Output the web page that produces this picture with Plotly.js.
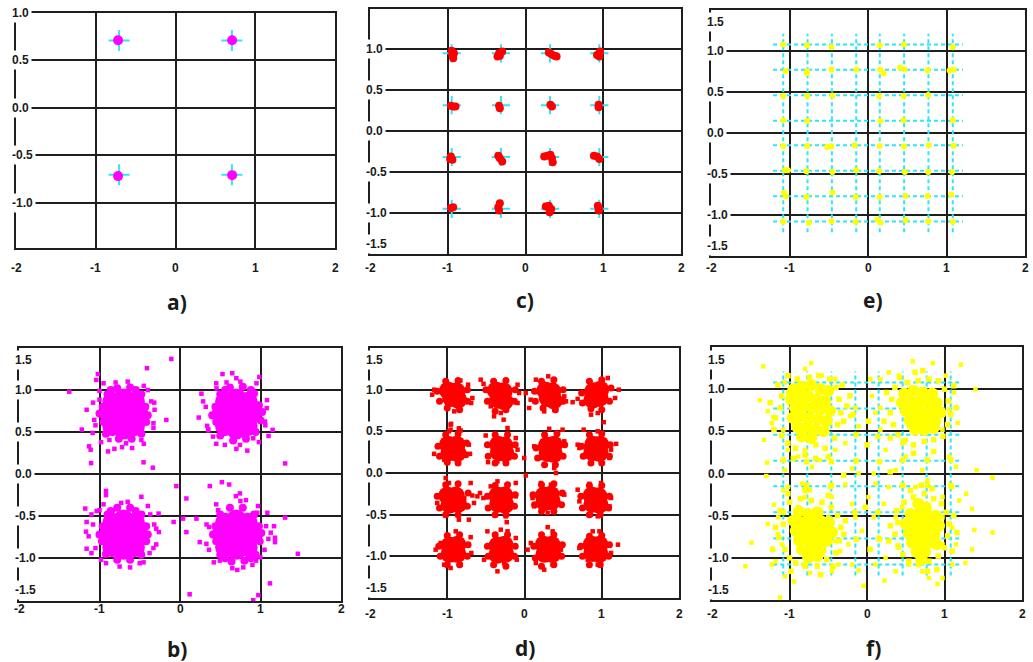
<!DOCTYPE html>
<html><head><meta charset="utf-8">
<script src="https://cdn.plot.ly/plotly-3.0.1.min.js"></script>
<style>html,body{margin:0;padding:0;background:#fff;}#chart{width:1033px;height:662px;}</style>
</head><body><div id="chart"></div>
<script>
// ---------------- DATA ----------------
const xTickVals = [-2, -1, 0, 1, 2];
const xTickText = ['-2', '-1', '0', '1', '2'];
const yTickVals = [1.5, 1, 0.5, 0, -0.5, -1, -1.5];
const yTickText = ['1.5', '1.0', '0.5', '0.0', '-0.5', '-1.0', '-1.5'];
const panelLabels = ['a)', 'c)', 'e)', 'b)', 'd)', 'f)'];

// ideal constellation levels
const qpskLevels = [-0.707, 0.707];
const qam16Levels = [-0.949, -0.316, 0.316, 0.949];
const qam64Levels = [-1.08, -0.77, -0.46, -0.15, 0.15, 0.46, 0.77, 1.08];
const qam64Span = 1.21;

// a) QPSK received (no noise)
const aPts = [[-0.72,0.71],[0.71,0.71],[-0.72,-0.72],[0.71,-0.71]];

// c) 16-QAM received (low noise)
const cPts = [
[-0.95,0.98],[-0.94,0.93],[-0.93,0.89],[-0.92,0.95],
[-0.34,0.95],[-0.30,0.97],[-0.36,0.91],[-0.33,0.92],
[0.30,0.96],[0.33,0.94],[0.37,0.92],[0.40,0.91],
[0.92,0.93],[0.95,0.95],[0.95,0.91],[0.96,0.97],
[-0.96,0.31],[-0.93,0.30],[-0.90,0.30],
[-0.34,0.31],[-0.33,0.28],
[0.32,0.32],[0.34,0.30],
[0.94,0.32],[0.94,0.29],
[-0.96,-0.31],[-0.94,-0.35],[-0.97,-0.34],
[-0.35,-0.30],[-0.33,-0.33],[-0.30,-0.37],
[0.24,-0.31],[0.28,-0.30],[0.32,-0.29],[0.34,-0.33],[0.35,-0.38],
[0.88,-0.30],[0.92,-0.31],[0.95,-0.34],
[-0.96,-0.94],[-0.93,-0.93],
[-0.33,-0.88],[-0.35,-0.93],[-0.34,-0.97],
[0.26,-0.92],[0.30,-0.91],[0.33,-0.95],[0.31,-0.99],
[0.93,-0.91],[0.95,-0.95],[0.94,-0.97]
];

// e) 64-QAM received (low noise)
const ePts = [
[-1.08,1.08],[-0.775,1.07],[-0.466,1.05],[0.148,1.07],[0.458,1.08],[1.08,1.05],
[-1.05,0.755],[-0.775,0.75],[-0.78,0.73],[-0.466,0.775],[-0.148,0.775],[0.157,0.77],[0.20,0.73],[0.41,0.80],[0.466,0.775],[0.758,0.763],[1.04,0.763],[1.09,0.77],
[-1.08,0.45],[-0.775,0.45],[-0.453,0.458],[0.14,0.45],[0.453,0.45],[0.767,0.462],
[-1.08,0.154],[-0.775,0.146],[0.157,0.146],[0.453,0.154],[1.08,0.154],
[-1.08,-0.158],[-0.775,-0.158],[-0.52,-0.17],[-0.466,-0.162],[-0.17,-0.15],[0.148,-0.158],[0.458,-0.162],[0.775,-0.15],[1.09,-0.154],
[-1.06,-0.454],[-1.02,-0.454],[-0.785,-0.467],[-0.453,-0.475],[-0.148,-0.454],[0.14,-0.462],[0.47,-0.475],[0.767,-0.475],[1.07,-0.475],
[-1.07,-0.73],[-1.05,-0.77],[-0.785,-0.78],[-0.453,-0.726],[-0.157,-0.78],[0.148,-0.78],[0.479,-0.767],[0.758,-0.767],[1.06,-0.75],
[-1.08,-1.083],[-0.754,-1.095],[-0.466,-1.075],[-0.157,-1.083],[0.119,-1.055],[0.161,-1.09],[0.479,-1.063],[0.767,-1.075],[1.08,-1.083]
];

// b) QPSK received (high noise): dense cores, cluster edges, scattered points
const bCore = [
[-0.84,0.86],[-0.70,0.90],[-0.56,0.86],[-0.88,0.72],[-0.70,0.72],[-0.52,0.72],[-0.84,0.57],[-0.70,0.53],[-0.56,0.57],
[0.56,0.86],[0.70,0.90],[0.84,0.86],[0.52,0.72],[0.70,0.72],[0.88,0.72],[0.56,0.57],[0.70,0.53],[0.84,0.57],
[-0.84,-0.58],[-0.70,-0.54],[-0.56,-0.58],[-0.88,-0.72],[-0.70,-0.72],[-0.52,-0.72],[-0.84,-0.87],[-0.70,-0.90],[-0.56,-0.87],
[0.56,-0.58],[0.70,-0.54],[0.84,-0.58],[0.52,-0.72],[0.70,-0.72],[0.88,-0.72],[0.56,-0.87],[0.70,-0.90],[0.84,-0.87]
];
const bEdge = [
[-0.96,0.80],[-0.95,0.62],[-0.90,0.95],[-0.78,1.02],[-0.62,1.03],[-0.48,0.95],[-0.43,0.80],[-0.42,0.62],[-0.48,0.48],[-0.60,0.42],[-0.76,0.42],[-0.92,0.48],[-1.0,0.72],[-0.86,1.0],[-0.55,1.0],[-0.40,0.70],
[0.44,0.80],[0.45,0.62],[0.50,0.95],[0.62,1.03],[0.78,1.04],[0.92,0.96],[0.98,0.82],[1.00,0.64],[0.94,0.50],[0.82,0.42],[0.66,0.40],[0.50,0.46],[0.40,0.70],[0.56,1.0],[0.88,1.0],[1.02,0.74],
[-0.96,-0.62],[-0.97,-0.80],[-0.90,-0.48],[-0.78,-0.40],[-0.62,-0.40],[-0.48,-0.48],[-0.42,-0.62],[-0.42,-0.80],[-0.48,-0.96],[-0.62,-1.02],[-0.78,-1.02],[-0.92,-0.95],[-1.0,-0.72],[-0.86,-0.44],[-0.55,-0.44],[-0.40,-0.72],
[0.44,-0.62],[0.45,-0.80],[0.50,-0.48],[0.62,-0.40],[0.78,-0.40],[0.92,-0.48],[0.98,-0.62],[0.99,-0.80],[0.94,-0.96],[0.80,-1.03],[0.64,-1.04],[0.50,-0.96],[0.41,-0.72],[0.56,-1.0],[0.88,-1.0],[1.01,-0.70]
];
const bOut = [
[-1.08,0.85],[-1.05,0.58],[-0.95,1.08],[-0.65,1.10],[-0.45,1.05],[-0.32,0.85],[-0.33,0.55],[-0.45,0.36],[-0.72,0.32],[-0.98,0.38],
[0.32,0.80],[0.35,0.52],[0.45,1.08],[0.75,1.10],[0.95,1.08],[1.08,0.88],[1.06,0.58],[0.98,0.38],[0.70,0.30],[0.45,0.36],
[-1.08,-0.60],[-1.05,-0.88],[-0.95,-0.36],[-0.65,-0.33],[-0.40,-0.38],[-0.32,-0.60],[-0.33,-0.88],[-0.50,-1.06],[-0.75,-1.10],[-0.98,-1.02],
[0.33,-0.60],[0.36,-0.90],[0.45,-0.36],[0.75,-0.32],[0.97,-0.38],[1.07,-0.62],[1.05,-0.90],[0.90,-1.08],[0.65,-1.12],[0.42,-1.05],
[-1.376,0.98],[-1.02,1.19],[-1.04,1.12],[-1.0,0.99],[-1.16,0.765],[-1.22,0.53],[-1.085,0.49],[-1.13,0.33],[-1.11,0.29],[-1.105,0.13],
[-0.894,0.27],[-0.815,0.30],[-0.595,0.31],[-0.453,0.14],[-0.337,0.076],[-0.17,0.645],[-0.41,1.26],[-0.108,1.37],[-0.80,1.09],[-0.316,0.765],
[-0.33,0.605],[-0.357,0.865],[-1.065,0.645],[-0.48,0.406],[-0.877,0.406],[-0.67,0.366],[-1.0,0.885],[-0.40,1.0],
[0.528,1.19],[0.649,1.20],[0.70,1.14],[0.578,1.09],[0.985,1.155],[0.898,1.0],[0.266,0.956],[0.287,0.865],[0.233,0.673],[0.337,0.574],
[0.35,0.534],[0.41,0.446],[0.557,0.347],[0.836,0.279],[1.077,0.785],[1.10,0.454],[1.15,0.526],[1.306,0.127],[0.91,0.426],[1.056,0.625],
[0.744,0.347],[0.453,1.02],
[-0.919,-0.20],[-0.919,-0.25],[-1.177,-0.41],[-1.10,-0.48],[-1.035,-0.44],[-1.0,-0.43],[-1.16,-0.57],[-1.168,-0.685],[-1.135,-0.74],[-1.16,-0.888],
[-1.10,-0.94],[-0.919,-1.06],[-0.773,-1.03],[-0.62,-1.11],[-0.453,-1.05],[-0.378,-0.94],[-0.295,-0.837],[-0.262,-0.69],[-0.295,-0.65],[-0.266,-0.47],
[-0.37,-0.48],[-0.48,-0.27],[-0.73,-0.343],[-0.836,-0.43],
[0.37,-0.143],[0.52,-0.096],[0.611,-0.124],[0.694,-0.263],[0.819,-0.31],[0.744,-0.23],[0.474,-0.43],[0.362,-0.63],[0.245,-0.81],[0.328,-0.83],
[0.204,-0.53],[0.079,-0.29],[0.079,-0.69],[0.037,-0.53],[-0.079,-0.57],[-0.046,-0.143],[0.12,-1.43],[0.711,-1.14],[0.786,-1.11],[0.91,-1.50],
[0.973,-1.44],[1.118,-1.30],[1.464,-0.948],[1.306,-0.518],[1.168,-0.62],[1.18,-0.757],[1.18,-0.81],[1.127,-0.697],[1.085,-0.46],[1.098,-0.77],
[0.998,-0.99],[0.944,-1.03],[0.96,-0.46],[0.495,-1.03]
];

// d) 16-QAM received (high noise)
const dCore = [
[-0.99,0.99],[-0.88,0.98],[-0.95,0.90],[-0.86,0.88],
[-0.37,0.99],[-0.27,0.98],[-0.34,0.88],[-0.26,0.86],
[0.27,0.99],[0.36,0.98],[0.30,0.90],[0.38,0.87],
[0.89,0.98],[0.98,1.00],[0.88,0.88],[0.97,0.90],
[-0.99,0.34],[-0.88,0.34],[-0.97,0.25],[-0.87,0.24],
[-0.34,0.34],[-0.26,0.33],[-0.33,0.25],[-0.25,0.24],
[0.29,0.33],[0.38,0.34],[0.30,0.24],[0.38,0.23],
[0.89,0.34],[0.98,0.34],[0.88,0.25],[0.97,0.24],
[-1.00,-0.27],[-0.89,-0.27],[-0.97,-0.38],[-0.86,-0.37],
[-0.35,-0.27],[-0.26,-0.27],[-0.34,-0.37],[-0.25,-0.38],
[0.25,-0.27],[0.34,-0.26],[0.26,-0.35],[0.35,-0.34],
[0.87,-0.27],[0.96,-0.28],[0.88,-0.37],[0.97,-0.38],
[-0.97,-0.87],[-0.87,-0.86],[-0.97,-0.97],[-0.87,-0.97],
[-0.35,-0.87],[-0.26,-0.86],[-0.35,-0.98],[-0.25,-0.97],
[0.25,-0.86],[0.35,-0.86],[0.26,-0.97],[0.36,-0.97],
[0.87,-0.86],[0.97,-0.86],[0.88,-0.96],[0.97,-0.97]
];
const dEdge = [
[-1.13,0.98],[-1.10,0.86],[-1.02,1.10],[-0.86,1.11],[-0.74,1.00],[-0.74,0.86],[-0.84,0.76],[-1.00,0.78],
[-0.50,1.00],[-0.48,0.86],[-0.40,1.10],[-0.24,1.11],[-0.12,1.00],[-0.13,0.86],[-0.24,0.76],[-0.38,0.74],
[0.13,0.98],[0.14,0.86],[0.22,1.10],[0.38,1.12],[0.50,1.00],[0.50,0.86],[0.40,0.76],[0.24,0.78],
[0.74,0.96],[0.75,0.84],[0.84,1.10],[1.00,1.12],[1.12,1.02],[1.10,0.86],[1.00,0.76],[0.86,0.77],
[-1.12,0.32],[-1.10,0.20],[-1.02,0.46],[-0.86,0.47],[-0.75,0.36],[-0.76,0.22],[-0.86,0.12],[-1.00,0.13],
[-0.48,0.34],[-0.47,0.20],[-0.38,0.46],[-0.22,0.46],[-0.12,0.34],[-0.13,0.20],[-0.24,0.12],[-0.38,0.12],
[0.15,0.30],[0.17,0.18],[0.26,0.46],[0.42,0.47],[0.52,0.34],[0.50,0.20],[0.40,0.10],[0.26,0.10],
[0.74,0.32],[0.76,0.20],[0.84,0.46],[1.00,0.47],[1.11,0.34],[1.10,0.20],[1.00,0.12],[0.86,0.12],
[-1.13,-0.28],[-1.10,-0.42],[-1.02,-0.14],[-0.86,-0.13],[-0.73,-0.24],[-0.74,-0.40],[-0.86,-0.50],[-1.02,-0.50],
[-0.48,-0.28],[-0.47,-0.42],[-0.38,-0.15],[-0.22,-0.14],[-0.12,-0.26],[-0.13,-0.40],[-0.24,-0.50],[-0.38,-0.50],
[0.11,-0.26],[0.13,-0.38],[0.22,-0.14],[0.38,-0.13],[0.49,-0.24],[0.48,-0.38],[0.38,-0.46],[0.22,-0.46],
[0.73,-0.28],[0.75,-0.42],[0.84,-0.15],[1.00,-0.15],[1.10,-0.28],[1.09,-0.42],[0.98,-0.50],[0.84,-0.50],
[-1.11,-0.88],[-1.09,-1.00],[-1.00,-0.75],[-0.84,-0.74],[-0.73,-0.86],[-0.74,-1.00],[-0.84,-1.10],[-1.00,-1.10],
[-0.48,-0.88],[-0.47,-1.00],[-0.38,-0.74],[-0.22,-0.74],[-0.12,-0.88],[-0.13,-1.00],[-0.24,-1.12],[-0.40,-1.10],
[0.12,-0.88],[0.14,-1.02],[0.22,-0.74],[0.38,-0.74],[0.49,-0.86],[0.48,-1.00],[0.38,-1.10],[0.22,-1.12],
[0.73,-0.88],[0.75,-1.00],[0.84,-0.76],[1.00,-0.75],[1.10,-0.86],[1.09,-1.00],[0.98,-1.10],[0.84,-1.10]
];
const dOut = [
[-1.195,0.94],[-1.17,1.0],[-0.83,1.11],[-0.73,1.06],[-0.675,0.90],[-0.69,0.84],[-0.91,0.74],[-0.85,0.76],[-0.95,0.59],[-0.957,0.52],[-0.85,0.536],
[-0.567,1.12],[-0.53,1.07],[-0.09,1.06],[-0.07,0.96],[-0.09,0.84],[-0.437,0.80],[-0.394,0.68],[-0.27,0.64],[-0.22,0.54],[-0.307,0.72],
[0.017,0.96],[0.08,0.88],[0.147,1.12],[0.307,1.16],[0.515,0.92],[0.537,0.86],[0.385,0.76],[0.255,0.74],[0.06,0.78],
[0.623,0.85],[0.688,0.89],[1.078,1.14],[1.22,1.0],[1.173,0.90],[1.026,0.61],[0.948,0.72],[0.766,0.52],[0.861,0.70],
[-1.17,0.23],[-0.978,0.50],[-0.827,0.51],[-0.72,0.34],[-0.706,0.23],[-1.04,0.16],[-0.87,0.13],[-0.957,0.58],
[-0.502,0.45],[-0.472,0.13],[-0.113,0.42],[-0.09,0.28],[-0.35,0.14],[-0.2,0.18],
[0.125,0.32],[0.212,0.18],[0.385,0.06],[0.407,0.0],[0.493,0.52],[0.515,0.38],[0.32,0.53],[-0.004,0.18],[0.017,-0.03],
[0.688,0.34],[0.71,0.30],[1.186,0.35],[1.12,0.28],[0.948,0.50],[0.86,0.14],[1.1,0.18],
[-1.02,-0.06],[-0.978,-0.12],[-0.697,-0.12],[-0.675,-0.27],[-0.654,-0.36],[-0.78,-0.30],[-0.85,-0.56],[-0.72,-0.56],[-1.13,-0.36],[-0.576,-0.24],[-0.61,-0.28],
[-0.35,-0.10],[-0.113,-0.12],[-0.113,-0.28],[-0.532,-0.30],[-0.242,-0.52],[-0.23,-0.59],[-0.437,-0.16],
[0.104,-0.30],[0.212,-0.12],[0.342,-0.14],[0.515,-0.26],[0.43,-0.36],[0.3,-0.48],[0.125,-0.40],
[0.688,-0.20],[0.71,-0.34],[0.84,-0.13],[0.991,-0.12],[1.12,-0.30],[1.1,-0.40],[0.86,-0.50],[0.948,-0.52],
[-1.15,-0.92],[-1.086,-0.84],[-0.89,-0.70],[-0.697,-0.77],[-0.688,-0.96],[-0.957,-1.14],[-1.04,-1.10],[-0.827,-1.10],
[-0.48,-0.70],[-0.307,-0.68],[-0.22,-0.70],[-0.113,-0.78],[-0.1,-1.04],[-0.35,-1.18],[-0.524,-1.04],[-0.264,-1.08],
[0.04,-0.92],[0.082,-0.84],[0.3,-0.65],[0.364,-0.70],[0.472,-0.92],[0.255,-1.16],[0.364,-1.10],[0.147,-1.08],
[0.71,-0.90],[0.883,-0.70],[0.97,-0.70],[1.21,-0.86],[1.12,-0.96],[0.948,-1.10],[0.818,-1.04]
];

// f) 64-QAM received (high noise)
const fCore = [
[-0.95,1.00],[-0.84,1.03],[-0.72,1.05],[-0.60,1.00],[-0.50,0.98],
[-0.98,0.88],[-0.87,0.90],[-0.76,0.92],[-0.65,0.88],[-0.54,0.86],
[-0.93,0.78],[-0.82,0.80],[-0.71,0.78],[-0.60,0.76],[-0.48,0.74],
[-0.96,0.66],[-0.85,0.68],[-0.74,0.66],[-0.63,0.64],[-0.52,0.62],
[-0.90,0.55],[-0.78,0.55],[-0.67,0.52],[-0.56,0.50],[-0.84,0.44],[-0.72,0.42],
[0.48,0.95],[0.60,0.98],[0.72,0.96],[0.84,0.95],
[0.45,0.84],[0.56,0.86],[0.67,0.85],[0.78,0.86],[0.90,0.84],
[0.50,0.74],[0.62,0.75],[0.73,0.73],[0.84,0.74],[0.95,0.72],
[0.55,0.63],[0.66,0.63],[0.77,0.62],[0.88,0.62],
[0.62,0.52],[0.74,0.52],[0.86,0.54],
[-0.88,-0.45],[-0.76,-0.48],[-0.64,-0.46],
[-0.95,-0.56],[-0.84,-0.58],[-0.72,-0.57],[-0.60,-0.56],[-0.49,-0.58],
[-0.92,-0.68],[-0.80,-0.68],[-0.68,-0.67],[-0.56,-0.68],[-0.45,-0.70],
[-0.88,-0.79],[-0.76,-0.78],[-0.64,-0.79],[-0.52,-0.80],
[-0.84,-0.90],[-0.72,-0.90],[-0.60,-0.91],[-0.76,-1.00],[-0.64,-0.98],
[0.66,-0.36],[0.76,-0.40],
[0.56,-0.48],[0.67,-0.48],[0.78,-0.49],[0.89,-0.50],
[0.50,-0.60],[0.61,-0.59],[0.72,-0.60],[0.83,-0.60],[0.93,-0.62],
[0.54,-0.71],[0.65,-0.70],[0.76,-0.71],[0.87,-0.72],
[0.58,-0.82],[0.69,-0.82],[0.80,-0.82],[0.90,-0.84],
[0.64,-0.93],[0.75,-0.93],[0.70,-1.02]
];
const fHalo = [
[-1.15,1.05],[-1.10,0.92],[-1.12,0.78],[-1.18,0.66],[-1.10,0.45],[-1.02,0.36],[-0.92,0.30],[-0.80,0.22],[-0.66,0.34],[-0.54,0.30],
[-0.42,0.42],[-0.38,0.58],[-0.34,0.72],[-0.36,0.88],[-0.40,1.02],[-0.48,1.12],[-0.62,1.16],[-0.74,1.14],[-0.90,1.12],[-1.02,1.16],
[-0.30,0.62],[-0.26,0.80],[-0.22,0.92],[-0.18,0.70],[-0.32,1.05],[-0.66,0.18],[-0.50,0.20],[-1.20,0.52],[-1.25,0.84],[-0.95,0.18],
[0.36,1.02],[0.32,0.88],[0.30,0.72],[0.34,0.58],[0.40,0.46],[0.48,0.38],[0.60,0.34],[0.74,0.38],[0.86,0.40],[0.98,0.44],
[1.04,0.58],[1.08,0.70],[1.05,0.86],[1.00,1.00],[0.92,1.10],[0.80,1.12],[0.66,1.10],[0.52,1.08],[0.42,1.14],[0.25,0.96],
[0.22,0.62],[1.15,0.78],[1.12,1.04],[0.62,1.20],[0.72,1.22],[0.30,0.42],[0.60,0.24],[0.86,0.26],
[-1.12,-0.44],[-1.08,-0.60],[-1.14,-0.76],[-1.06,-0.90],[-1.00,-1.00],[-0.92,-1.06],[-0.80,-1.10],[-0.64,-1.10],[-0.52,-1.02],[-0.40,-0.94],
[-0.36,-0.80],[-0.34,-0.64],[-0.38,-0.50],[-0.46,-0.40],[-0.58,-0.34],[-0.72,-0.32],[-0.86,-0.30],[-1.00,-0.34],[-1.18,-0.64],[-0.30,-0.72],
[-0.28,-0.56],[-0.60,-1.20],[-0.98,-1.16],[-0.50,-0.26],[-0.80,-0.20],[-1.02,-0.24],[-1.22,-0.90],[-0.44,-1.10],
[0.38,-0.44],[0.40,-0.58],[0.36,-0.72],[0.40,-0.86],[0.46,-0.96],[0.54,-1.04],[0.66,-1.08],[0.80,-1.04],[0.92,-0.98],[1.00,-0.88],
[1.04,-0.74],[1.06,-0.60],[1.02,-0.46],[0.96,-0.36],[0.86,-0.30],[0.74,-0.24],[0.60,-0.28],[0.48,-0.34],[0.70,-0.14],[0.84,-0.18],
[0.56,-0.20],[1.12,-0.50],[1.16,-0.70],[1.10,-0.92],[0.30,-0.62],[0.28,-0.80],[0.78,-1.16],[0.90,-1.14],
[-0.14,0.46],[0.14,0.44],[-0.14,0.15],[0.16,0.14],[-0.46,0.14],[0.46,0.16],[-0.78,0.14],[0.78,0.16],[-0.78,-0.14],[0.78,-0.14],
[-0.46,-0.14],[0.46,-0.14],[-0.16,-0.46],[0.14,-0.46],[-0.14,-0.78],[0.16,-0.78],[1.08,0.16],[1.08,-0.14],[-1.08,0.16],[-1.08,-0.46],
[0.0,0.34],[0.02,0.62],[-0.02,-0.40],[0.04,-0.90],[0.30,0.02],[-0.30,-0.02]
];
const fOut = [
[-1.34,1.27],[-0.72,1.31],[0.59,1.33],[0.85,1.31],[1.21,1.29],[1.40,1.0],[1.415,0.04],[1.62,-0.05],[1.62,-0.70],[1.385,-0.67],
[1.355,-0.42],[1.28,-0.24],[1.355,-0.90],[1.27,-1.06],[0.91,-1.31],[0.974,-1.24],[0.80,-1.24],[0.225,-1.27],[-0.043,-1.33],[-0.94,-1.28],
[-1.125,-1.47],[-1.57,-1.10],[-1.49,-0.82],[-1.28,-0.60],[-1.30,-0.03],[-1.29,0.13],[-1.385,0.87],[-1.33,0.40],[-1.21,0.67],[-1.28,0.74],
[-1.18,-1.04],[-1.23,-1.08],[-1.06,-1.22],[-1.02,0.28],[-1.06,0.04],[-1.08,-0.20],[-1.02,-0.16],[-1.2,-0.37],[-1.15,-0.72],[-0.84,-0.12],
[-0.80,-0.28],[-0.71,0.08],[-0.61,0.16],[-0.476,-0.16],[-0.455,-0.28],[-0.41,0.28],[-0.28,0.36],[-0.216,0.68],[-0.15,0.78],[-0.108,0.56],
[-0.195,0.06],[-0.108,0.0],[-0.28,-0.13],[-0.195,-0.36],[-0.15,-0.52],[-0.065,-0.68],[-0.24,-0.84],[-0.195,-1.08],[-0.108,-1.15],[-0.37,-1.08],
[-0.455,-1.16],[-0.736,-1.18],[-0.82,-1.08],[0.087,0.0],[0.108,-0.12],[0.02,-0.28],[0.087,-0.52],[0.15,-0.76],[0.24,-1.0],[0.108,-1.08],
[0.37,-1.16],[0.216,-0.36],[0.28,-0.16],[0.37,0.04],[0.50,0.20],[0.455,0.36],[0.24,0.28],[0.173,0.52],[0.108,0.72],[0.065,0.92],
[0.173,1.12],[0.28,1.20],[0.41,1.16],[0.043,1.12],[0.173,0.78],[0.714,0.04],[0.78,-0.08],[0.628,-0.16],[1.06,0.20],[1.147,0.08],
[1.10,-0.16],[0.974,-0.28],[1.19,-0.32],[1.10,-0.64],[1.147,-0.84],[1.10,-1.08],[1.06,0.76],[1.125,0.96],[1.017,1.16],[1.17,0.60],
[0.974,0.52],[0.714,0.48],[0.50,0.40],[0.54,0.56],[-0.80,1.24],[-0.584,1.16],[-0.41,1.12],[-1.06,1.08],[-1.02,0.96],[-1.23,0.60],
[-1.08,0.52],[-0.887,0.20],[-0.80,0.28],[-1.147,-0.52],[-1.10,-0.84],[-0.41,-0.80],[-0.346,-0.92],[-0.50,-0.52],[-0.887,-0.40],[-0.736,-0.20],
[0.455,-0.40],[0.37,-0.52],[0.41,-0.88],[0.54,-1.08],[0.714,-1.16],[0.974,-0.84],[0.974,-0.52]
];

// ---------------- STYLE / LAYOUT ----------------
const W = 1033, H = 662;
const MAGENTA = '#ff00ff', RED = '#ff0000', YELLOW = '#ffff00', CYAN = '#2ee6f5';
const GRID = '#1e1e1e';
const TICKFONT = {family: 'Liberation Sans, Arial, sans-serif', size: 12, color: '#1a1a1a'};

// pixel boxes: [left, right, top, bottom], y range, x-label gap, label center
const panels = [
  {ax: '',  box: [16, 335, 12.7, 248.3], yr: [-1.48, 1.0], xgap: 14, lab: [177, 302]},
  {ax: '2', box: [370, 681, 9, 254],     yr: [-1.5, 1.49], xgap: 8,  lab: [525, 300]},
  {ax: '3', box: [711, 1025, 10, 256],   yr: [-1.5, 1.5],  xgap: 6,  lab: [873, 300]},
  {ax: '4', box: [19, 341, 348, 601],    yr: [-1.51, 1.5], xgap: 2,  lab: [177, 649]},
  {ax: '5', box: [370, 679, 348, 598],   yr: [-1.5, 1.5],  xgap: 10, lab: [525, 648]},
  {ax: '6', box: [712, 1022, 347, 600],  yr: [-1.5, 1.5],  xgap: 8,  lab: [873, 648]}
];

function split(list) { return {x: list.map(p => p[0]), y: list.map(p => p[1])}; }
function gridPts(levels) { const o = []; levels.forEach(y => levels.forEach(x => o.push([x, y]))); return o; }
function dashLines(levels, span) {
  const x = [], y = [];
  levels.forEach(L => { x.push(-span, span, null); y.push(L, L, null); x.push(L, L, null); y.push(-span, span, null); });
  return {x, y};
}

const traces = [];
function addPts(list, i, color, size, symbol) {
  const d = split(list);
  traces.push({type: 'scatter', mode: 'markers', x: d.x, y: d.y, xaxis: 'x' + panels[i].ax, yaxis: 'y' + panels[i].ax,
    marker: {color: color, size: size, symbol: symbol || 'circle', line: {width: 0}}, hoverinfo: 'skip', showlegend: false});
}
function addCross(levels, i, size) {
  const d = split(gridPts(levels));
  traces.push({type: 'scatter', mode: 'markers', x: d.x, y: d.y, xaxis: 'x' + panels[i].ax, yaxis: 'y' + panels[i].ax,
    marker: {symbol: 'cross-thin-open', size: size, color: CYAN, line: {color: CYAN, width: 2}}, hoverinfo: 'skip', showlegend: false});
}
function addDash(i) {
  const d = dashLines(qam64Levels, qam64Span);
  traces.push({type: 'scatter', mode: 'lines', x: d.x, y: d.y, xaxis: 'x' + panels[i].ax, yaxis: 'y' + panels[i].ax,
    line: {color: CYAN, width: 2, dash: '4px,3px'}, hoverinfo: 'skip', showlegend: false, connectgaps: false});
}

// a)
addCross(qpskLevels, 0, 15);
addPts(aPts, 0, MAGENTA, 10);
// c)
addCross(qam16Levels, 1, 13);
addPts(cPts, 1, RED, 8);
// e)
addDash(2);
addPts(ePts, 2, YELLOW, 6);
// b)
addPts(bCore, 3, MAGENTA, 20);
addPts(bEdge, 3, MAGENTA, 8);
addPts(bOut, 3, MAGENTA, 4.5, 'square');
// d)
addPts(dCore, 4, RED, 18);
addPts(dEdge, 4, RED, 7);
addPts(dOut, 4, RED, 4.5, 'square');
// f)
addDash(5);
addPts(fCore, 5, YELLOW, 12);
addPts(fHalo, 5, YELLOW, 5.5, 'square');
addPts(fOut, 5, YELLOW, 4.5, 'square');

const layout = {
  width: W, height: H, autosize: false,
  margin: {l: 0, r: 0, t: 0, b: 0, pad: 0},
  paper_bgcolor: '#fff', plot_bgcolor: '#fff',
  showlegend: false, annotations: []
};

panels.forEach((p, i) => {
  const [l, r, t, b] = p.box;
  const xn = 'xaxis' + p.ax, yn = 'yaxis' + p.ax;
  const xid = 'x' + p.ax, yid = 'y' + p.ax;
  layout[xn] = {domain: [l / W, r / W], range: [-2, 2], anchor: yid, tickvals: [-1, 0, 1], showticklabels: false,
    showgrid: true, gridcolor: GRID, gridwidth: 2, zeroline: false, showline: true, mirror: true,
    linecolor: GRID, linewidth: 1.8, ticks: '', fixedrange: true};
  layout[yn] = {domain: [1 - b / H, 1 - t / H], range: p.yr, anchor: xid, tickvals: [-1, -0.5, 0, 0.5, 1], showticklabels: false,
    showgrid: true, gridcolor: GRID, gridwidth: 2, zeroline: false, showline: true, mirror: true,
    linecolor: GRID, linewidth: 1.8, ticks: '', fixedrange: true};
  // y tick labels (overlapping the left axis line, white background)
  yTickVals.forEach((v, k) => {
    if (v > p.yr[1] + 0.01) return;
    let shift = 0;
    if (v === 1.5) shift = -12.5;
    if (v === -1.5) shift = 10;
    layout.annotations.push({xref: xid + ' domain', yref: yid, x: 0, y: v, xanchor: 'left', yanchor: 'middle',
      xshift: -7, yshift: shift, text: '<b>' + yTickText[k] + '</b>', showarrow: false, bgcolor: '#fff', borderpad: 2, font: TICKFONT});
  });
  // x tick labels
  xTickVals.forEach((v, k) => {
    layout.annotations.push({xref: xid, yref: yid + ' domain', x: v, y: 0, xanchor: 'center', yanchor: 'top',
      yshift: -(p.xgap - 3.3), text: '<b>' + xTickText[k] + '</b>', showarrow: false, borderpad: 1, font: TICKFONT});
  });
  // panel label
  layout.annotations.push({xref: 'paper', yref: 'paper', x: p.lab[0] / W, y: 1 - p.lab[1] / H, xanchor: 'center', yanchor: 'middle',
    text: '<b>' + panelLabels[i] + '</b>', showarrow: false, font: {family: 'Open Sans, Liberation Sans, sans-serif', size: 21, color: '#1a1a1a'}});
});

Plotly.newPlot('chart', traces, layout, {displayModeBar: false, staticPlot: true});
</script>
</body></html>
